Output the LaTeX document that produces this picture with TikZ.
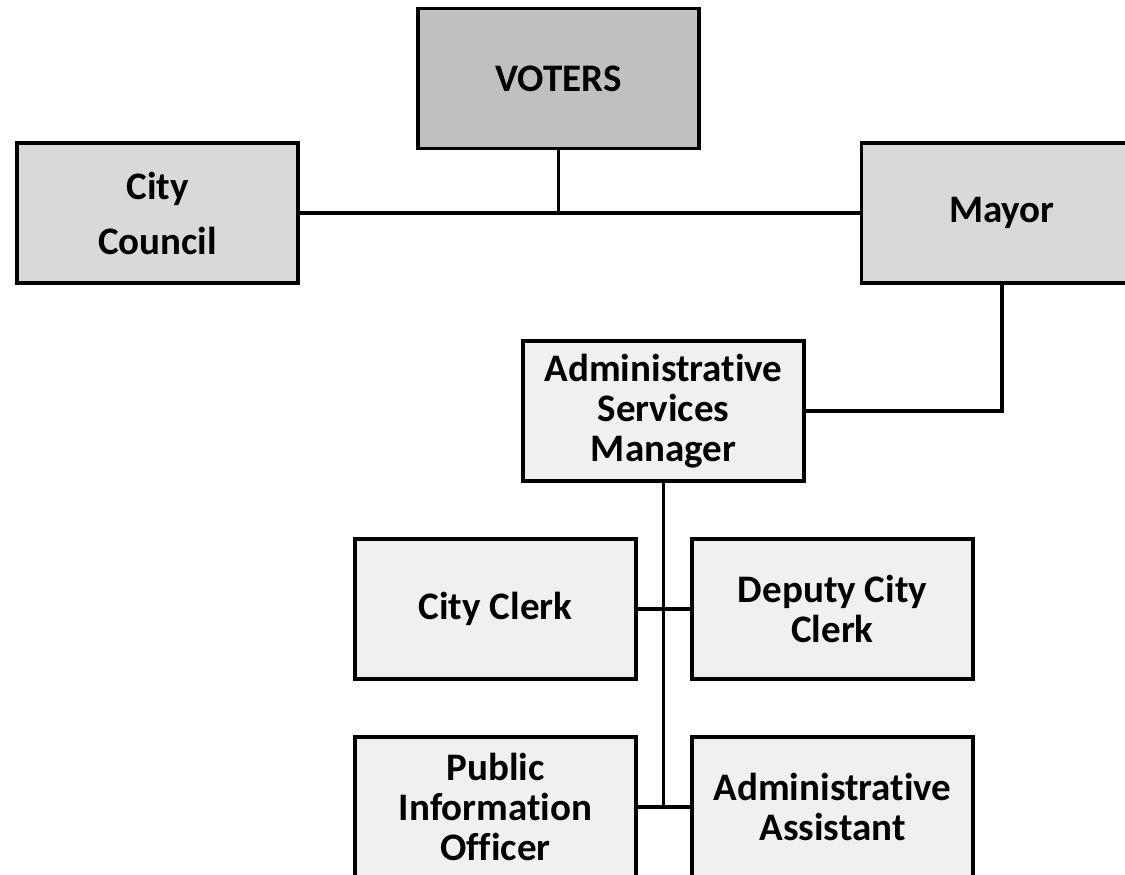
\documentclass[tikz,border=0pt]{standalone}
\usepackage{fontspec}
\setmainfont{Carlito}[Ligatures=NoCommon]
\definecolor{votersgray}{HTML}{C0C0C0}
\definecolor{midgray}{HTML}{D9D9D9}
\definecolor{lightgray2}{HTML}{F0F0F0}
\begin{document}
\begin{tikzpicture}[x=1pt,y=-1pt,
  box/.style={draw=black, line width=3.5pt, minimum width=281pt, minimum height=140pt,
    align=center, inner sep=0pt, font=\fontsize{39}{40}\selectfont\bfseries},
  conn/.style={line width=3.5pt}]
\clip (0,0) rectangle (1125,875);
\fill[white] (0,0) rectangle (1125,875);
\node[box, fill=votersgray] (voters) at (558.5,78.5) {VOTERS};
\node[box, fill=midgray, font=\fontsize{39}{55}\selectfont\bfseries] (council) at (157.5,213) {City\\Council};
\node[box, fill=midgray] (mayor) at (1002,213) {Mayor};
\node[box, fill=lightgray2] (asm) at (663.5,411) {Administrative\\Services\\Manager};
\node[box, fill=lightgray2] (clerk) at (495.5,609) {City Clerk};
\node[box, fill=lightgray2] (deputy) at (832.5,609) {Deputy City\\Clerk};
\node[box, fill=lightgray2] (pio) at (495.5,807) {Public\\Information\\Officer};
\node[box, fill=lightgray2] (aa) at (832.5,807) {Administrative\\Assistant};
\draw[conn] (council.east) -- (mayor.west);
\draw[conn] (voters.south) -- (voters.south |- council.east);
\draw[conn] (mayor.south) |- (asm.east);
\draw[conn] (asm.south) -- (asm.south |- pio.east);
\draw[conn] (clerk.east) -- (deputy.west);
\draw[conn] (pio.east) -- (aa.west);
\end{tikzpicture}
\end{document}
